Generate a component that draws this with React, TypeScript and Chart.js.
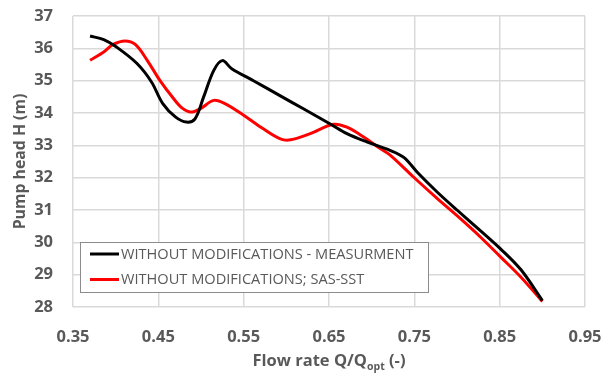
import React, { useEffect, useRef } from 'react';
import { Chart, registerables } from 'chart.js';

Chart.register(...registerables);

// ---- data ----
const measQ = [0.37, 0.386, 0.401, 0.425, 0.442, 0.455, 0.47, 0.483, 0.493, 0.503, 0.515, 0.525, 0.536, 0.562, 0.593, 0.62, 0.652, 0.671, 0.695, 0.722, 0.738, 0.754, 0.777, 0.8, 0.828, 0.851, 0.875, 0.9];
const measH = [36.38, 36.27, 36.04, 35.53, 34.96, 34.3, 33.88, 33.72, 33.82, 34.49, 35.32, 35.62, 35.37, 34.99, 34.53, 34.13, 33.65, 33.36, 33.1, 32.84, 32.62, 32.15, 31.55, 31.0, 30.35, 29.8, 29.15, 28.2];

const sasQ = [0.37, 0.386, 0.397, 0.411, 0.423, 0.437, 0.452, 0.468, 0.478, 0.488, 0.499, 0.515, 0.528, 0.55, 0.573, 0.593, 0.605, 0.628, 0.655, 0.671, 0.691, 0.71, 0.722, 0.749, 0.777, 0.804, 0.828, 0.851, 0.875, 0.9];
const sasH = [35.63, 35.89, 36.12, 36.23, 36.12, 35.63, 35.0, 34.44, 34.15, 34.03, 34.13, 34.39, 34.29, 33.93, 33.51, 33.2, 33.17, 33.36, 33.65, 33.56, 33.25, 32.9, 32.69, 32.02, 31.35, 30.73, 30.15, 29.55, 28.92, 28.17];

const seriesNames = ['WITHOUT MODIFICATIONS - MEASURMENT', 'WITHOUT MODIFICATIONS; SAS-SST'];
const seriesColors = ['#000000', '#ff0000'];
const xTicks = [0.35, 0.45, 0.55, 0.65, 0.75, 0.85, 0.95];
const yTicks = [28, 29, 30, 31, 32, 33, 34, 35, 36, 37];
const yTitle = 'Pump head H (m)';
const xTitleMain = 'Flow rate Q/Q';
const xTitleSub = 'opt';
const xTitleEnd = ' (-)';

const FONT = '"Open Sans", "DejaVu Sans", sans-serif';
const TEXT = '#595959';

const overlay = {
  id: 'overlay',
  afterDatasetsDraw(chart: any) {
    const ctx = chart.ctx as CanvasRenderingContext2D;
    ctx.save();
    // legend box
    const bx = 80, by = 242, bw = 348, bh = 50;
    ctx.fillStyle = '#ffffff';
    ctx.fillRect(bx, by, bw, bh);
    ctx.strokeStyle = '#8c8c8c';
    ctx.lineWidth = 1;
    ctx.strokeRect(bx + 0.5, by + 0.5, bw, bh);
    const rows = [254, 279.5];
    ctx.font = `14.6px ${FONT}`;
    ctx.textBaseline = 'middle';
    ctx.textAlign = 'left';
    seriesNames.forEach((name, i) => {
      ctx.strokeStyle = seriesColors[i];
      ctx.lineWidth = 3;
      ctx.beginPath();
      ctx.moveTo(90, rows[i]);
      ctx.lineTo(119, rows[i]);
      ctx.stroke();
      ctx.fillStyle = TEXT;
      ctx.fillText(name, 121, rows[i] + 0.5);
    });
    ctx.restore();
  },
  afterDraw(chart: any) {
    const ctx = chart.ctx as CanvasRenderingContext2D;
    const area = chart.chartArea;
    ctx.save();
    ctx.fillStyle = TEXT;
    // y title
    ctx.font = `bold 15.8px ${FONT}`;
    ctx.textAlign = 'center';
    ctx.textBaseline = 'middle';
    ctx.translate(20.5, (area.top + area.bottom) / 2);
    ctx.rotate(-Math.PI / 2);
    ctx.fillText(yTitle, 0, 0);
    ctx.restore();

    ctx.save();
    ctx.fillStyle = TEXT;
    ctx.textBaseline = 'alphabetic';
    ctx.textAlign = 'left';
    const mainFont = `bold 16.5px ${FONT}`;
    const subFont = `bold 10.5px ${FONT}`;
    ctx.font = mainFont;
    const w1 = ctx.measureText(xTitleMain).width;
    const w3 = ctx.measureText(xTitleEnd).width;
    ctx.font = subFont;
    const w2 = ctx.measureText(xTitleSub).width;
    const total = w1 + w2 + w3;
    const cx = (area.left + area.right) / 2;
    const base = 366;
    let x = cx - total / 2;
    ctx.font = mainFont;
    ctx.fillText(xTitleMain, x, base);
    x += w1;
    ctx.font = subFont;
    ctx.fillText(xTitleSub, x, base + 4);
    x += w2;
    ctx.font = mainFont;
    ctx.fillText(xTitleEnd, x, base);
    ctx.restore();
  },
};

export default function App() {
  const ref = useRef<HTMLCanvasElement | null>(null);
  useEffect(() => {
    if (!ref.current) return;
    const chart = new Chart(ref.current, {
      type: 'line',
      data: {
        datasets: [
          {
            label: seriesNames[0],
            data: measQ.map((q, i) => ({ x: q, y: measH[i] })),
            borderColor: seriesColors[0],
            backgroundColor: seriesColors[0],
            borderWidth: 3,
            pointRadius: 0,
            tension: 0.35,
            fill: false,
          },
          {
            label: seriesNames[1],
            data: sasQ.map((q, i) => ({ x: q, y: sasH[i] })),
            borderColor: seriesColors[1],
            backgroundColor: seriesColors[1],
            borderWidth: 3,
            pointRadius: 0,
            tension: 0.35,
            fill: false,
          },
        ],
      },
      options: {
        responsive: false,
        animation: false,
        devicePixelRatio: 1,
        layout: { padding: { left: 0, right: 26, top: 16, bottom: 0 } },
        plugins: {
          legend: { display: false },
          tooltip: { enabled: false },
          title: { display: false },
        },
        scales: {
          x: {
            type: 'linear',
            min: 0.35,
            max: 0.95,
            afterBuildTicks: (s: any) => {
              s.ticks = xTicks.map((v) => ({ value: v }));
            },
            afterFit: (s: any) => {
              s.height = 66;
              s.paddingLeft = 0;
              s.paddingRight = 0;
            },
            ticks: {
              padding: 20,
              color: TEXT,
              font: { family: FONT, size: 16.5, weight: 'bold' },
              callback: (v: any) => Number(v).toFixed(2),
              maxRotation: 0,
              autoSkip: false,
            },
            grid: { color: '#d9d9d9', lineWidth: 1.5, drawTicks: false },
            border: { display: false },
          },
          y: {
            type: 'linear',
            min: 28,
            max: 37,
            afterBuildTicks: (s: any) => {
              s.ticks = yTicks.map((v) => ({ value: v }));
            },
            afterFit: (s: any) => {
              s.width = 73;
              s.paddingTop = 0;
              s.paddingBottom = 0;
            },
            ticks: {
              padding: 20,
              color: TEXT,
              font: { family: FONT, size: 16.5, weight: 'bold' },
              callback: (v: any) => String(v),
              autoSkip: false,
            },
            grid: { color: '#d9d9d9', lineWidth: 1.5, drawTicks: false },
            border: { display: false },
          },
        },
      },
      plugins: [overlay],
    } as any);
    return () => chart.destroy();
  }, []);
  return (
    <div style={{ position: 'fixed', left: 0, top: 0, width: 611, height: 373, background: '#ffffff' }}>
      <canvas ref={ref} width={611} height={373} style={{ display: 'block', width: 611, height: 373 }} />
    </div>
  );
}
